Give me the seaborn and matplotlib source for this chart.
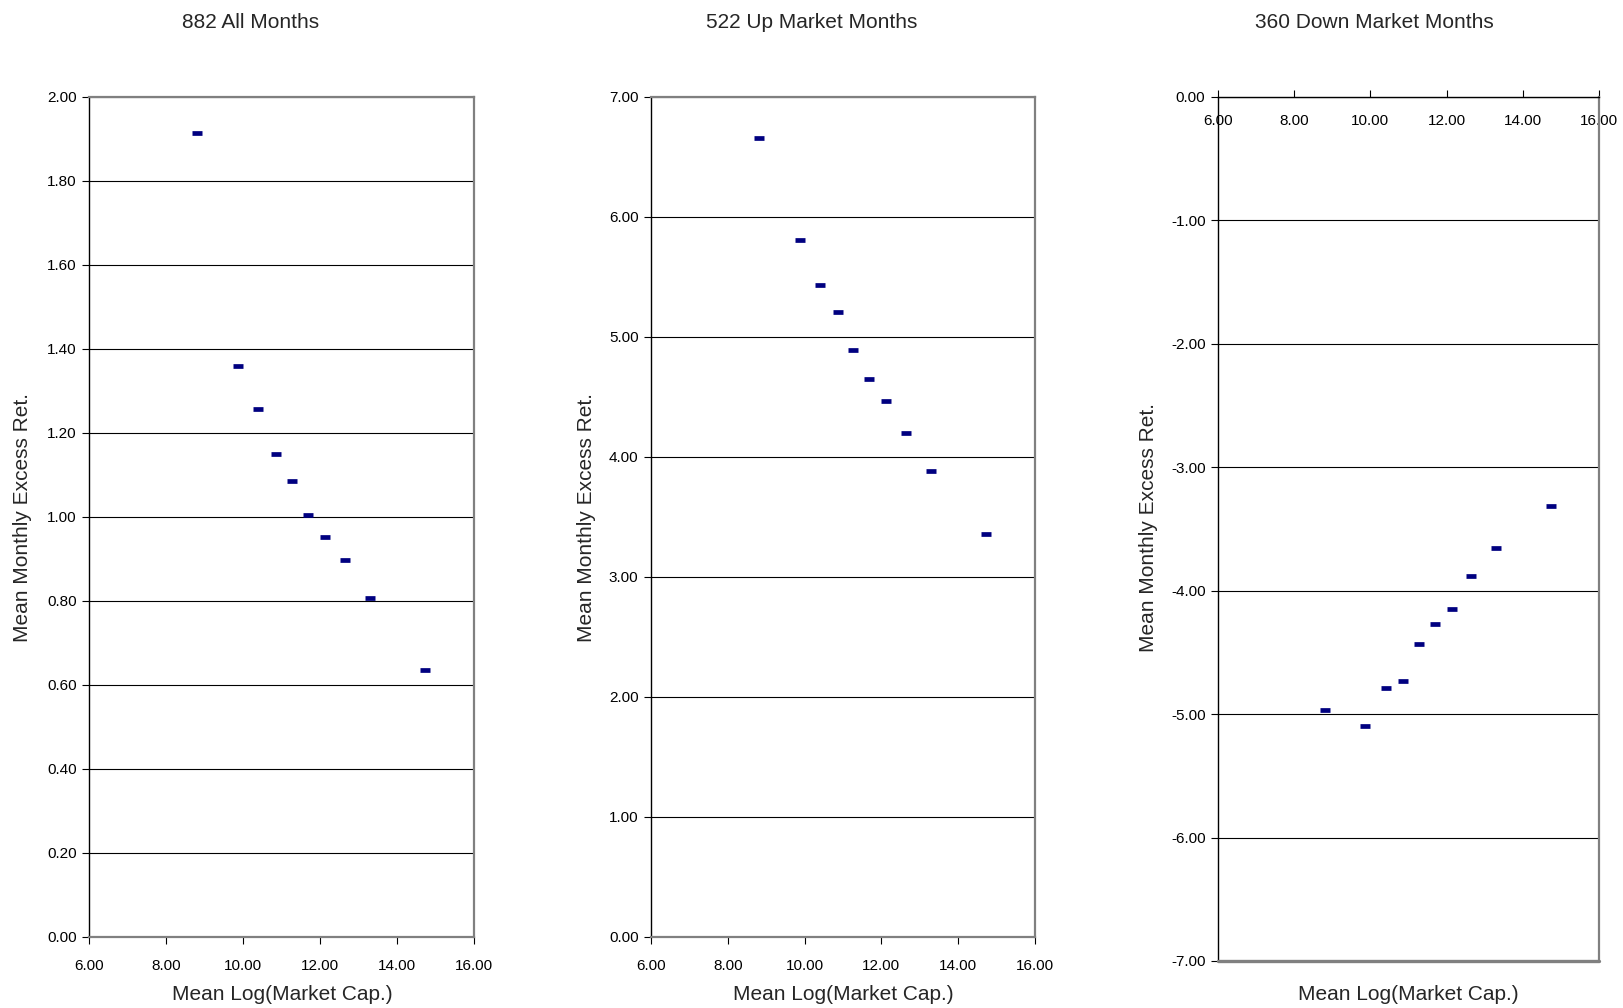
import matplotlib
matplotlib.use("Agg")
import matplotlib.pyplot as plt
import seaborn as sns

# mean log market cap of the size deciles (same for all three panels)
log_cap = [8.80, 9.87, 10.40, 10.86, 11.27, 11.69, 12.13, 12.64, 13.29, 14.73]

# mean monthly excess returns
ret_all = [1.914, 1.360, 1.256, 1.150, 1.086, 1.005, 0.953, 0.897, 0.808, 0.635]
ret_up = [6.66, 5.81, 5.43, 5.21, 4.89, 4.65, 4.47, 4.20, 3.88, 3.36]
ret_down = [-4.97, -5.10, -4.79, -4.73, -4.43, -4.27, -4.15, -3.88, -3.65, -3.31]

titles = ["882 All Months", "522 Up Market Months", "360 Down Market Months"]
x_ticks = [6, 8, 10, 12, 14, 16]
y_ticks_all = [0.0, 0.2, 0.4, 0.6, 0.8, 1.0, 1.2, 1.4, 1.6, 1.8, 2.0]
y_ticks_up = [0, 1, 2, 3, 4, 5, 6, 7]
y_ticks_down = [0, -1, -2, -3, -4, -5, -6, -7]

sns.set_style("white")
plt.rcParams['font.family'] = ['Liberation Sans', 'DejaVu Sans']

W, H = 1623, 1008
fig = plt.figure(figsize=(W / 100, H / 100), dpi=100)


def box(left, right, top, bottom):
    return [left / W, 1 - bottom / H, (right - left) / W, (bottom - top) / H]


ax1 = fig.add_axes(box(89, 474, 97, 937))
ax2 = fig.add_axes(box(651, 1035, 97, 937))
ax3 = fig.add_axes(box(1218, 1599, 97, 961))

panels = [
    (ax1, ret_all, y_ticks_all),
    (ax2, ret_up, y_ticks_up),
    (ax3, ret_down, y_ticks_down),
]

for ax, ret, yt in panels:
    sns.scatterplot(x=log_cap, y=ret, ax=ax, marker="_", s=50,
                    color="#000080", linewidth=3.4, zorder=5)
    ax.set_xlim(6, 16)
    ax.set_ylim(min(yt), max(yt))
    ax.set_xticks(x_ticks)
    ax.set_yticks(yt)
    ax.xaxis.set_major_formatter(matplotlib.ticker.FormatStrFormatter("%.2f"))
    ax.yaxis.set_major_formatter(matplotlib.ticker.FormatStrFormatter("%.2f"))
    ax.grid(axis="y", color="black", linewidth=0.8)
    ax.grid(axis="x", visible=False)
    ax.set_axisbelow(True)
    ax.set_xlabel("")
    ax.set_ylabel("")
    ax.tick_params(axis="y", direction="out", length=5, width=0.8, pad=4,
                   labelsize=11, left=True, colors="black")
    ax.spines["left"].set_color("black")
    ax.spines["left"].set_linewidth(1.0)
    ax.spines["right"].set_color("#808080")
    ax.spines["right"].set_linewidth(1.6)
    ax.spines["top"].set_color("#808080")
    ax.spines["top"].set_linewidth(1.6)
    ax.spines["bottom"].set_color("#808080")
    ax.spines["bottom"].set_linewidth(1.6)

for ax in (ax1, ax2):
    ax.tick_params(axis="x", direction="out", length=5, width=0.8, pad=11,
                   labelsize=11, bottom=True, colors="black")

# down-market panel: x axis crosses at zero, i.e. along the top edge
ax3.spines["top"].set_visible(False)
ax3.spines["bottom"].set_position(("data", 0))
ax3.spines["bottom"].set_color("black")
ax3.spines["bottom"].set_linewidth(1.0)
ax3.tick_params(axis="x", direction="in", length=5, width=0.8, pad=12,
                labelsize=11, bottom=True, colors="black")
ax3.axhline(-7, color="#808080", linewidth=2.4, clip_on=False, zorder=6)

# titles and axis labels
title_x = [251, 812, 1374]
ylab_x = [23, 586, 1148]
ylab_y = [517, 517, 528]
xlab_x = [282, 843, 1408]
for i in range(3):
    fig.text(title_x[i] / W, 1 - 22 / H, titles[i], ha="center", va="center",
             fontsize=15)
    fig.text(ylab_x[i] / W, 1 - ylab_y[i] / H, "Mean Monthly Excess Ret.",
             ha="center", va="center", rotation=90, fontsize=15)
    fig.text(xlab_x[i] / W, 1 - 994 / H, "Mean Log(Market Cap.)",
             ha="center", va="center", fontsize=15)

fig.savefig("out.png", dpi=100)
